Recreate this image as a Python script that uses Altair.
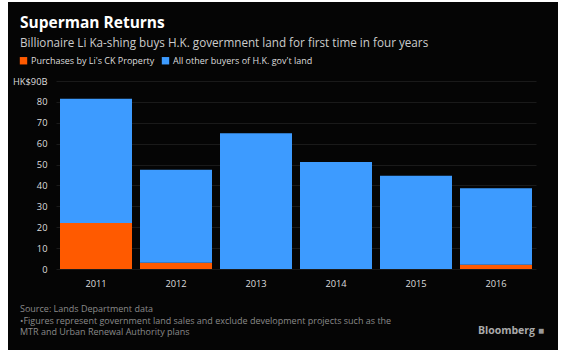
import altair as alt
import pandas as pd

years = ["2011", "2012", "2013", "2014", "2015", "2016"]
li_ck = [22, 3, 0, 0, 0, 2]
others = [59.5, 44.5, 65, 51.2, 44.6, 36.6]
series_names = ["Purchases by Li's CK Property", "All other buyers of H.K. gov't land"]
series_colors = ["#ff5a00", "#3d9bff"]
y_ticks = [0, 10, 20, 30, 40, 50, 60, 70, 80, 90]

title_text = "Superman Returns"
subtitle_text = "Billionaire Li Ka-shing buys H.K. govermnent land for first time in four years"
source_lines = [
    "Source: Lands Department data",
    "\u2022Figures represent government land sales and exclude development projects such as the",
    "MTR and Urban Renewal Authority plans",
]

rows = []
for i, yr in enumerate(years):
    rows.append({"year": yr, "series": series_names[0], "value": li_ck[i], "order": 0})
    rows.append({"year": yr, "series": series_names[1], "value": others[i], "order": 1})
df = pd.DataFrame(rows)

FONT = "Open Sans"
one = pd.DataFrame({"a": [0]})

def frame(x, x2, y, y2):
    return alt.Chart(one).mark_rect(color="#ffffff").encode(
        x=alt.value(x), x2=alt.value(x2), y=alt.value(y), y2=alt.value(y2))

# white margin around the black card
borders = [
    frame(-56, -48, -81, 274),
    frame(-56, 516, -81, -79),
    frame(502, 516, -81, 274),
    frame(-56, 516, 269, 274),
]

bars = alt.Chart(df).mark_bar().encode(
    x=alt.X("year:N", sort=years,
            scale=alt.Scale(paddingInner=0.1, paddingOuter=0.05),
            axis=alt.Axis(title=None, labelAngle=0, domain=False, ticks=False,
                          labelColor="#dddddd", labelFont=FONT, labelFontSize=9.3,
                          labelPadding=10)),
    y=alt.Y("value:Q", stack="zero",
            scale=alt.Scale(domain=[0, 90], nice=False),
            axis=alt.Axis(title=None, values=y_ticks, domain=False, ticks=False,
                          labelColor="#dddddd", labelFont=FONT, labelFontSize=9.3,
                          labelPadding=9, gridColor="#1a1a1a", gridWidth=1,
                          labelExpr="datum.value == 90 ? 'HK$90B' : datum.label")),
    color=alt.Color("series:N",
                    scale=alt.Scale(domain=series_names, range=series_colors),
                    legend=alt.Legend(title=None, orient="none", direction="horizontal",
                                      legendX=-37, legendY=-25, symbolType="square",
                                      symbolSize=55, symbolStrokeWidth=0,
                                      symbolOpacity=1,
                                      labelColor="#dddddd", labelFont=FONT,
                                      labelFontSize=9, columnPadding=6,
                                      symbolOffset=0, labelOffset=3)),
    order=alt.Order("order:Q"),
)

title = alt.Chart(one).mark_text(
    text=title_text, font=FONT, fontSize=15.5, fontWeight="bold", color="#ffffff",
    align="left", baseline="alphabetic"
).encode(x=alt.value(-36), y=alt.value(-53))

subtitle = alt.Chart(one).mark_text(
    text=subtitle_text, font=FONT, fontSize=11.7, color="#cccccc",
    align="left", baseline="alphabetic"
).encode(x=alt.value(-36), y=alt.value(-34))

source_layers = []
for i, line in enumerate(source_lines):
    source_layers.append(alt.Chart(one).mark_text(
        text=line, font=FONT, fontSize=9, color="#8a8a8a", align="left",
        baseline="alphabetic"
    ).encode(x=alt.value(-36), y=alt.value(231 + i * 11.5)))

brand = alt.Chart(one).mark_text(
    text="Bloomberg", font=FONT, fontSize=10.5, fontWeight="bold", color="#aaaaaa",
    align="right", baseline="alphabetic"
).encode(x=alt.value(479), y=alt.value(253))

icon = alt.Chart(one).mark_text(
    text="\u25a0", font=FONT, fontSize=10, color="#999999",
    align="left", baseline="alphabetic"
).encode(x=alt.value(482), y=alt.value(253))

chart = alt.layer(bars, title, subtitle, *source_layers, brand, icon, *borders).properties(
    width=480, height=188,
    autosize=alt.AutoSizeParams(type="none"),
    padding={"left": 56, "top": 81, "right": 36, "bottom": 86},
    background="#050505",
).configure_view(stroke=None)

chart.save("out.html", embed_options={"renderer": "svg", "actions": False})
